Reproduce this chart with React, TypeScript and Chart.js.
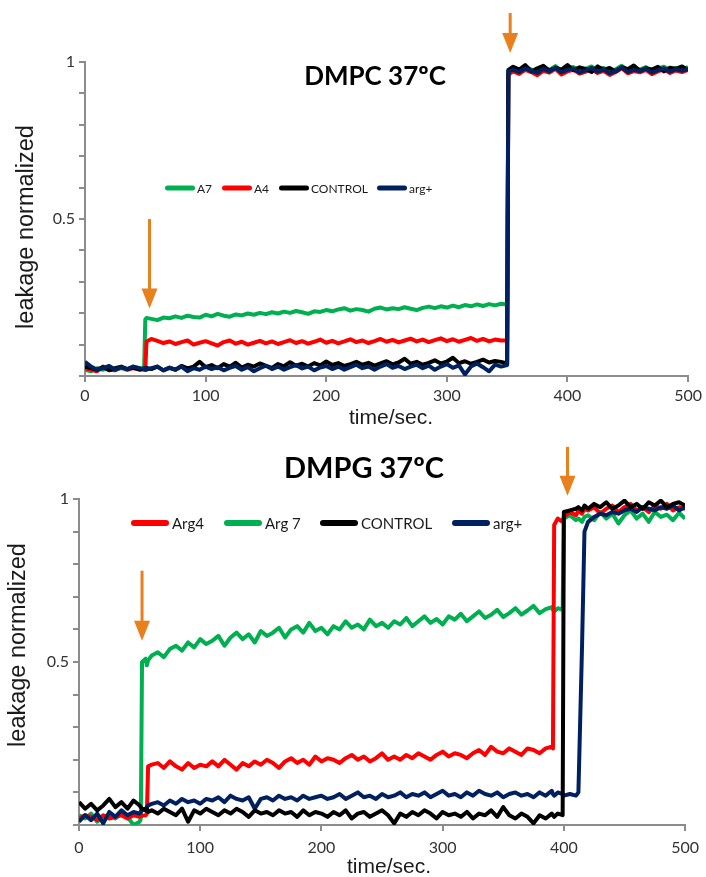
import React, { useEffect, useRef } from "react";
import { Chart, registerables } from "chart.js";

Chart.register(...registerables);

// ---------------- DMPC 37ºC panel ----------------
const dmpcTime = [
  0, 5, 10, 15, 20, 25, 30, 35, 40, 45,
  49, 50, 51,
  55, 60, 65, 70, 75, 80, 85, 90, 95, 100,
  105, 110, 115, 120, 125, 130, 135, 140, 145, 150,
  155, 160, 165, 170, 175, 180, 185, 190, 195, 200,
  205, 210, 215, 220, 225, 230, 235, 240, 245, 250,
  255, 260, 265, 270, 275, 280, 285, 290, 295, 300,
  305, 310, 315, 320, 325, 330, 335, 340, 345,
  350, 351,
  355, 360, 365, 370, 375, 380, 385, 390, 395, 400,
  405, 410, 415, 420, 425, 430, 435, 440, 445, 450,
  455, 460, 465, 470, 475, 480, 485, 490, 495, 500,
];
const dmpcA7 = [
  0.02, 0.015, 0.025, 0.02, 0.03, 0.02, 0.025, 0.02, 0.03, 0.025,
  0.025, 0.18, 0.185,
  0.182, 0.178, 0.186, 0.184, 0.19, 0.185, 0.192, 0.188, 0.186, 0.195,
  0.19, 0.198, 0.192, 0.189, 0.196, 0.193, 0.199, 0.195, 0.201, 0.197,
  0.203, 0.199, 0.205, 0.201, 0.207, 0.203, 0.198, 0.206, 0.204, 0.21,
  0.206, 0.212, 0.216, 0.208, 0.213, 0.21, 0.205, 0.214, 0.218, 0.212,
  0.216, 0.213, 0.219, 0.214, 0.21, 0.217, 0.221, 0.216, 0.222, 0.218,
  0.224, 0.219, 0.226, 0.222, 0.228, 0.223, 0.229, 0.225, 0.23,
  0.228, 0.97,
  0.98, 0.972, 0.985, 0.976, 0.968, 0.982, 0.975, 0.987, 0.971, 0.979,
  0.984, 0.97, 0.978, 0.986, 0.974, 0.981, 0.969, 0.977, 0.988, 0.973,
  0.98, 0.976, 0.984, 0.97, 0.979, 0.985, 0.974, 0.981, 0.977, 0.984,
];
const dmpcA4 = [
  0.025, 0.02, 0.015, 0.03, 0.02, 0.018, 0.028, 0.02, 0.025, 0.022,
  0.02, 0.022, 0.11,
  0.118, 0.112, 0.105, 0.11, 0.102, 0.108, 0.113, 0.1, 0.106, 0.111,
  0.104, 0.097, 0.108, 0.113, 0.103, 0.109, 0.1, 0.106, 0.112, 0.104,
  0.11, 0.102, 0.108, 0.114, 0.105, 0.111, 0.103, 0.109, 0.116, 0.106,
  0.112, 0.104, 0.11, 0.117, 0.108, 0.113, 0.105, 0.111, 0.118, 0.109,
  0.115, 0.107, 0.113, 0.119, 0.11, 0.116, 0.108, 0.114, 0.12, 0.111,
  0.117, 0.109, 0.115, 0.121, 0.112, 0.118, 0.11, 0.116, 0.113,
  0.114, 0.96,
  0.97, 0.962, 0.975, 0.968, 0.958, 0.972, 0.966, 0.978, 0.96, 0.97,
  0.975, 0.963, 0.969, 0.977, 0.965, 0.972, 0.959, 0.968, 0.98, 0.964,
  0.971, 0.967, 0.975, 0.961, 0.97, 0.977, 0.965, 0.973, 0.968, 0.975,
];
const dmpcControl = [
  0.03, 0.025, 0.02, 0.028, 0.018, 0.025, 0.03, 0.022, 0.027, 0.02,
  0.024, 0.02, 0.026,
  0.022, 0.03, 0.018, 0.026, 0.02, 0.032, 0.024, 0.03, 0.045, 0.028,
  0.035, 0.025, 0.038, 0.03, 0.042, 0.027, 0.036, 0.03, 0.04, 0.032,
  0.026, 0.038, 0.031, 0.044, 0.033, 0.039, 0.03, 0.041, 0.034, 0.046,
  0.035, 0.041, 0.032, 0.038, 0.045, 0.036, 0.042, 0.033, 0.04, 0.047,
  0.037, 0.043, 0.055, 0.039, 0.045, 0.036, 0.042, 0.05, 0.04, 0.046,
  0.058, 0.041, 0.047, 0.039, 0.045, 0.052, 0.043, 0.048, 0.045,
  0.04, 0.975,
  0.985, 0.976, 0.99, 0.97, 0.98, 0.988, 0.972, 0.982, 0.976, 0.99,
  0.974, 0.983, 0.978, 0.968, 0.986, 0.975, 0.981, 0.97, 0.984, 0.977,
  0.989, 0.972, 0.98, 0.976, 0.985, 0.97, 0.982, 0.978, 0.986, 0.974,
];
const dmpcArgPlus = [
  0.045, 0.03, 0.02, 0.025, 0.032, 0.02, 0.028, 0.022, 0.03, 0.025,
  0.022, 0.026, 0.02,
  0.025, 0.03, 0.018, 0.027, 0.02, 0.03, 0.015, 0.025, 0.02, 0.03,
  0.022, 0.028, 0.018, 0.026, 0.032, 0.02, 0.028, 0.015, 0.025, 0.033,
  0.022, 0.03, 0.02, 0.028, 0.035, 0.024, 0.03, 0.018, 0.027, 0.032,
  0.022, 0.03, 0.02, 0.028, 0.036, 0.025, 0.03, 0.02, 0.03, 0.038,
  0.026, 0.032, 0.022, 0.03, 0.036, 0.025, 0.033, 0.02, 0.03, 0.038,
  0.026, 0.034, 0.005, 0.03, 0.04, 0.028, 0.015, 0.036, 0.03,
  0.035, 0.97,
  0.975, 0.968, 0.98, 0.972, 0.965, 0.978, 0.97, 0.982, 0.967, 0.975,
  0.979, 0.966, 0.973, 0.981, 0.969, 0.976, 0.964, 0.972, 0.983, 0.968,
  0.975, 0.971, 0.979, 0.966, 0.974, 0.98, 0.969, 0.977, 0.972, 0.978,
];
const dmpcLabels = ["A7", "A4", "CONTROL", "arg+"];
const dmpcArrowTime = [53.5, 352.5];
const dmpcArrowFrom = [0.5, 1.156];
const dmpcArrowTo = [0.215, 1.029];

// ---------------- DMPG 37ºC panel ----------------
const dmpgTime = [
  0, 5, 10, 15, 20, 25, 30, 35, 40, 45, 50,
  51, 52, 55, 56, 57,
  60, 65, 70, 75, 80, 85, 90, 95, 100, 105,
  110, 115, 120, 125, 130, 135, 140, 145, 150, 155,
  160, 165, 170, 175, 180, 185, 190, 195, 200, 205,
  210, 215, 220, 225, 230, 235, 240, 245, 250, 255,
  260, 265, 270, 275, 280, 285, 290, 295, 300, 305,
  310, 315, 320, 325, 330, 335, 340, 345, 350, 355,
  360, 365, 370, 375, 380, 385, 390,
  391, 392, 395, 399, 400, 405, 410, 412, 415, 417,
  420, 425, 430, 435, 440, 445, 450, 455, 460, 465, 470, 475, 480, 485, 490, 495, 500,
];
const dmpgArg4 = [
  0.02, 0.03, 0.025, 0.015, 0.03, 0.02, 0.025, 0.03, 0.02, 0.03, 0.025,
  0.03, 0.028, 0.03, 0.035, 0.18,
  0.185, 0.19, 0.175, 0.195, 0.18, 0.17, 0.19, 0.175, 0.185, 0.18,
  0.195, 0.18, 0.2, 0.185, 0.17, 0.19, 0.18, 0.195, 0.185, 0.2,
  0.19, 0.175, 0.195, 0.205, 0.19, 0.2, 0.185, 0.21, 0.195, 0.205,
  0.2, 0.19, 0.205, 0.215, 0.2, 0.21, 0.195, 0.205, 0.22, 0.2,
  0.21, 0.2, 0.215, 0.205, 0.22, 0.21, 0.2, 0.215, 0.225, 0.21,
  0.22, 0.215, 0.205, 0.22, 0.23, 0.215, 0.24, 0.225, 0.22, 0.235,
  0.225, 0.215, 0.235, 0.23, 0.22, 0.235, 0.24,
  0.235, 0.92, 0.94, 0.93, 0.945, 0.96, 0.95, 0.965, 0.955, 0.97,
  0.965, 0.975, 0.955, 0.97, 0.98, 0.96, 0.975, 0.985, 0.965, 0.975, 0.96, 0.98, 0.97, 0.985, 0.965, 0.975, 0.97,
];
const dmpgArg7 = [
  0.03, 0.02, 0.035, 0.01, 0.025, 0.03, 0.02, 0.035, 0.025, 0.0, 0.01,
  0.02, 0.5, 0.51, 0.49, 0.505,
  0.52, 0.53, 0.515, 0.54, 0.55, 0.535, 0.56, 0.545, 0.57, 0.555,
  0.565, 0.58, 0.55, 0.575, 0.59, 0.57, 0.585, 0.56, 0.595, 0.58,
  0.59, 0.605, 0.575, 0.6, 0.61, 0.59, 0.62, 0.595, 0.605, 0.585,
  0.61, 0.6, 0.625, 0.605, 0.615, 0.6, 0.63, 0.61, 0.62, 0.605,
  0.625, 0.615, 0.635, 0.61, 0.625, 0.64, 0.62, 0.632, 0.615, 0.64,
  0.63, 0.648, 0.625, 0.64, 0.655, 0.635, 0.645, 0.66, 0.638, 0.65,
  0.665, 0.645, 0.658, 0.672, 0.65, 0.662, 0.668,
  0.66, 0.655, 0.665, 0.66, 0.94, 0.95, 0.935, 0.94, 0.93, 0.945,
  0.95, 0.935, 0.96, 0.94, 0.955, 0.925, 0.95, 0.965, 0.94, 0.955, 0.93, 0.96, 0.945, 0.952, 0.935, 0.958, 0.94,
];
const dmpgControl = [
  0.07, 0.05, 0.065, 0.045, 0.06, 0.08, 0.055, 0.07, 0.05, 0.075, 0.06,
  0.055, 0.05, 0.045, 0.05, 0.04,
  0.045, 0.035, 0.05, 0.04, 0.03, 0.05, 0.01, 0.045, 0.035, 0.05,
  0.04, 0.03, 0.045, 0.035, 0.05, 0.04, 0.025, 0.045, 0.035, 0.04,
  0.03, 0.045, 0.035, 0.04, 0.025, 0.045, 0.03, 0.04, 0.035, 0.025,
  0.04, 0.03, 0.045, 0.02, 0.035, 0.04, 0.025, 0.035, 0.045, 0.03,
  0.005, 0.035, 0.025, 0.04, 0.03, 0.045, 0.035, 0.02, 0.04, 0.03,
  0.035, 0.025, 0.04, 0.02, 0.035, 0.03, 0.045, 0.025, 0.055, 0.03,
  0.02, 0.035, 0.025, 0.005, 0.03, 0.02, 0.035,
  0.03, 0.025, 0.035, 0.03, 0.96, 0.965, 0.97, 0.975, 0.965, 0.98,
  0.97, 0.985, 0.975, 0.99, 0.97, 0.98, 0.995, 0.975, 0.985, 0.97, 0.99, 0.98, 0.995, 0.975, 0.985, 0.99, 0.98,
];
const dmpgArgPlus = [
  0.01, 0.03, 0.015, 0.035, 0.005, 0.04, 0.025, 0.045, 0.03, 0.04, 0.035,
  0.04, 0.045, 0.05, 0.055, 0.06,
  0.065, 0.07, 0.06, 0.075, 0.065, 0.08, 0.07, 0.075, 0.065, 0.08,
  0.075, 0.085, 0.07, 0.09, 0.08, 0.075, 0.085, 0.05, 0.08, 0.085,
  0.075, 0.09, 0.08, 0.085, 0.075, 0.09, 0.08, 0.085, 0.09, 0.08,
  0.085, 0.095, 0.08, 0.09, 0.1, 0.085, 0.09, 0.08, 0.095, 0.085,
  0.09, 0.1, 0.085, 0.095, 0.09, 0.1, 0.085, 0.095, 0.105, 0.09,
  0.095, 0.085, 0.1, 0.09, 0.105, 0.095, 0.09, 0.1, 0.085, 0.095,
  0.1, 0.09, 0.095, 0.085, 0.1, 0.09, 0.105,
  0.095, 0.09, 0.1, 0.095, 0.09, 0.095, 0.09, 0.1, 0.55, 0.9,
  0.93, 0.945, 0.955, 0.95, 0.96, 0.955, 0.965, 0.97, 0.96, 0.975, 0.97, 0.965, 0.975, 0.97, 0.98, 0.965, 0.975,
];
const dmpgLabels = ["Arg4", "Arg 7", "CONTROL", "arg+"];
const dmpgArrowTime = [52, 403];
const dmpgArrowFrom = [0.78, 1.16];
const dmpgArrowTo = [0.565, 1.01];

// axis tick labels
const yLabelValues = [0.5, 1];
const yLabelTexts = ["0.5", "1"];

const GREEN = "#00B050";
const RED = "#FF0000";
const BLACK = "#000000";
const NAVY = "#002060";
const ORANGE = "#E8801E";
const AXIS = "#8c8c8c";
const TEXT = "#1a1a1a";

const decorPlugin = {
  id: "decor",
  afterDraw(chart: any, _args: any, opts: any) {
    const ctx = chart.ctx;
    const xs = chart.scales.x;
    const ys = chart.scales.y;
    ctx.save();
    // arrows
    const ar = opts.arrows;
    for (let i = 0; i < ar.time.length; i++) {
      const x = xs.getPixelForValue(ar.time[i]);
      const y0 = ys.getPixelForValue(ar.from[i]);
      const y1 = ys.getPixelForValue(ar.to[i]);
      const hl = 20;
      const hw = 16;
      ctx.strokeStyle = ORANGE;
      ctx.lineWidth = 3;
      ctx.lineCap = "butt";
      ctx.beginPath();
      ctx.moveTo(x, y0);
      ctx.lineTo(x, y1 - hl + 2);
      ctx.stroke();
      ctx.fillStyle = ORANGE;
      ctx.beginPath();
      ctx.moveTo(x - hw / 2, y1 - hl);
      ctx.lineTo(x + hw / 2, y1 - hl);
      ctx.lineTo(x, y1);
      ctx.closePath();
      ctx.fill();
    }
    // legend
    const lg = opts.legend;
    chart.data.datasets.forEach((ds: any, i: number) => {
      const x0 = lg.x[i];
      ctx.strokeStyle = ds.borderColor;
      ctx.lineWidth = lg.lineWidth;
      ctx.lineCap = "round";
      ctx.beginPath();
      ctx.moveTo(x0 + lg.lineWidth / 2, lg.y);
      ctx.lineTo(x0 + lg.lineLength - lg.lineWidth / 2, lg.y);
      ctx.stroke();
      ctx.fillStyle = TEXT;
      ctx.font = lg.font;
      ctx.textAlign = "left";
      ctx.textBaseline = "middle";
      ctx.fillText(ds.label, x0 + lg.lineLength + lg.textGap, lg.y + 1);
    });
    // title
    const t = opts.title;
    ctx.fillStyle = "#000";
    ctx.font = t.font;
    ctx.textAlign = "center";
    ctx.textBaseline = "alphabetic";
    ctx.fillText(t.text, t.x, t.y);
    // x axis title
    const xt = opts.xTitle;
    ctx.fillStyle = TEXT;
    ctx.font = xt.font;
    ctx.fillText(xt.text, xt.x, xt.y);
    // y axis title
    const yt = opts.yTitle;
    ctx.translate(yt.x, yt.y);
    ctx.rotate(-Math.PI / 2);
    ctx.font = yt.font;
    ctx.textBaseline = "middle";
    ctx.fillText(yt.text, 0, 0);
    ctx.restore();
  },
};

function makeDataset(label: string, time: number[], values: number[], color: string, order: number) {
  return {
    label,
    data: time.map((t, i) => ({ x: t, y: values[i] })),
    borderColor: color,
    backgroundColor: color,
    borderWidth: 4,
    pointRadius: 0,
    tension: 0,
    borderJoinStyle: "round" as const,
    order,
  };
}

function scalesFor(yWidth: number, xHeight: number, xPad: number) {
  const tickFont = { family: "Lato", size: 16 };
  return {
    x: {
      type: "linear" as const,
      min: 0,
      max: 500,
      afterFit: (s: any) => {
        s.height = xHeight;
      },
      ticks: { stepSize: 100, font: tickFont, color: "#333", padding: xPad, maxRotation: 0, autoSkip: false },
      grid: { drawOnChartArea: false, drawTicks: true, tickLength: 6, color: AXIS, lineWidth: 2 },
      border: { display: true, color: AXIS, width: 2 },
    },
    y: {
      type: "linear" as const,
      min: 0,
      max: 1,
      afterFit: (s: any) => {
        s.width = yWidth;
      },
      ticks: {
        stepSize: 0.1,
        autoSkip: false,
        font: tickFont,
        color: "#333",
        padding: 4,
        callback: (v: any) => {
          const idx = yLabelValues.findIndex((lv) => Math.abs(lv - Number(v)) < 1e-6);
          return idx >= 0 ? yLabelTexts[idx] : "";
        },
      },
      grid: { drawOnChartArea: false, drawTicks: true, tickLength: 6, color: AXIS, lineWidth: 2 },
      border: { display: true, color: AXIS, width: 2 },
    },
  };
}

export default function App() {
  const topRef = useRef<HTMLCanvasElement>(null);
  const botRef = useRef<HTMLCanvasElement>(null);

  useEffect(() => {
    const top = new Chart(topRef.current!, {
      type: "line",
      data: {
        datasets: [
          makeDataset(dmpcLabels[0], dmpcTime, dmpcA7, GREEN, 3),
          makeDataset(dmpcLabels[1], dmpcTime, dmpcA4, RED, 2),
          makeDataset(dmpcLabels[2], dmpcTime, dmpcControl, BLACK, 1),
          makeDataset(dmpcLabels[3], dmpcTime, dmpcArgPlus, NAVY, 0),
        ],
      },
      options: {
        animation: false,
        responsive: false,
        events: [],
        layout: { padding: { top: 62, right: 16, left: 0, bottom: 0 } },
        scales: scalesFor(85, 54, 4) as any,
        plugins: {
          legend: { display: false },
          tooltip: { enabled: false },
          decor: {
            arrows: { time: dmpcArrowTime, from: dmpcArrowFrom, to: dmpcArrowTo },
            legend: { x: [165, 222, 279, 377], y: 188, lineLength: 30, lineWidth: 5, textGap: 2, font: "12px Lato" },
            title: { text: "DMPC 37ºC", x: 375, y: 85, font: "bold 26px Lato" },
            xTitle: { text: "time/sec.", x: 391, y: 424, font: "21px 'Liberation Sans'" },
            yTitle: { text: "leakage normalized", x: 27, y: 227, font: "23.5px 'Liberation Sans'" },
          },
        } as any,
      },
      plugins: [decorPlugin],
    });

    const bot = new Chart(botRef.current!, {
      type: "line",
      data: {
        datasets: [
          makeDataset(dmpgLabels[0], dmpgTime, dmpgArg4, RED, 2),
          makeDataset(dmpgLabels[1], dmpgTime, dmpgArg7, GREEN, 3),
          makeDataset(dmpgLabels[2], dmpgTime, dmpgControl, BLACK, 0),
          makeDataset(dmpgLabels[3], dmpgTime, dmpgArgPlus, NAVY, 1),
        ],
      },
      options: {
        animation: false,
        responsive: false,
        events: [],
        layout: { padding: { top: 79, right: 15, left: 0, bottom: 0 } },
        scales: scalesFor(79, 52, 7) as any,
        plugins: {
          legend: { display: false },
          tooltip: { enabled: false },
          decor: {
            arrows: { time: dmpgArrowTime, from: dmpgArrowFrom, to: dmpgArrowTo },
            legend: { x: [131, 224, 320, 452], y: 103, lineLength: 38, lineWidth: 6, textGap: 3, font: "15px Lato" },
            title: { text: "DMPG 37ºC", x: 364, y: 58, font: "bold 29px Lato" },
            xTitle: { text: "time/sec.", x: 389, y: 453, font: "21px 'Liberation Sans'" },
            yTitle: { text: "leakage normalized", x: 19, y: 225, font: "23.5px 'Liberation Sans'" },
          },
        } as any,
      },
      plugins: [decorPlugin],
    });

    return () => {
      top.destroy();
      bot.destroy();
    };
  }, []);

  return (
    <div style={{ position: "absolute", left: 0, top: 0, width: 706, height: 877, background: "#fff", overflow: "hidden" }}>
      <canvas ref={topRef} width={706} height={430} style={{ position: "absolute", left: 0, top: 0, width: 706, height: 430 }} />
      <canvas ref={botRef} width={706} height={457} style={{ position: "absolute", left: 0, top: 420, width: 706, height: 457 }} />
    </div>
  );
}
